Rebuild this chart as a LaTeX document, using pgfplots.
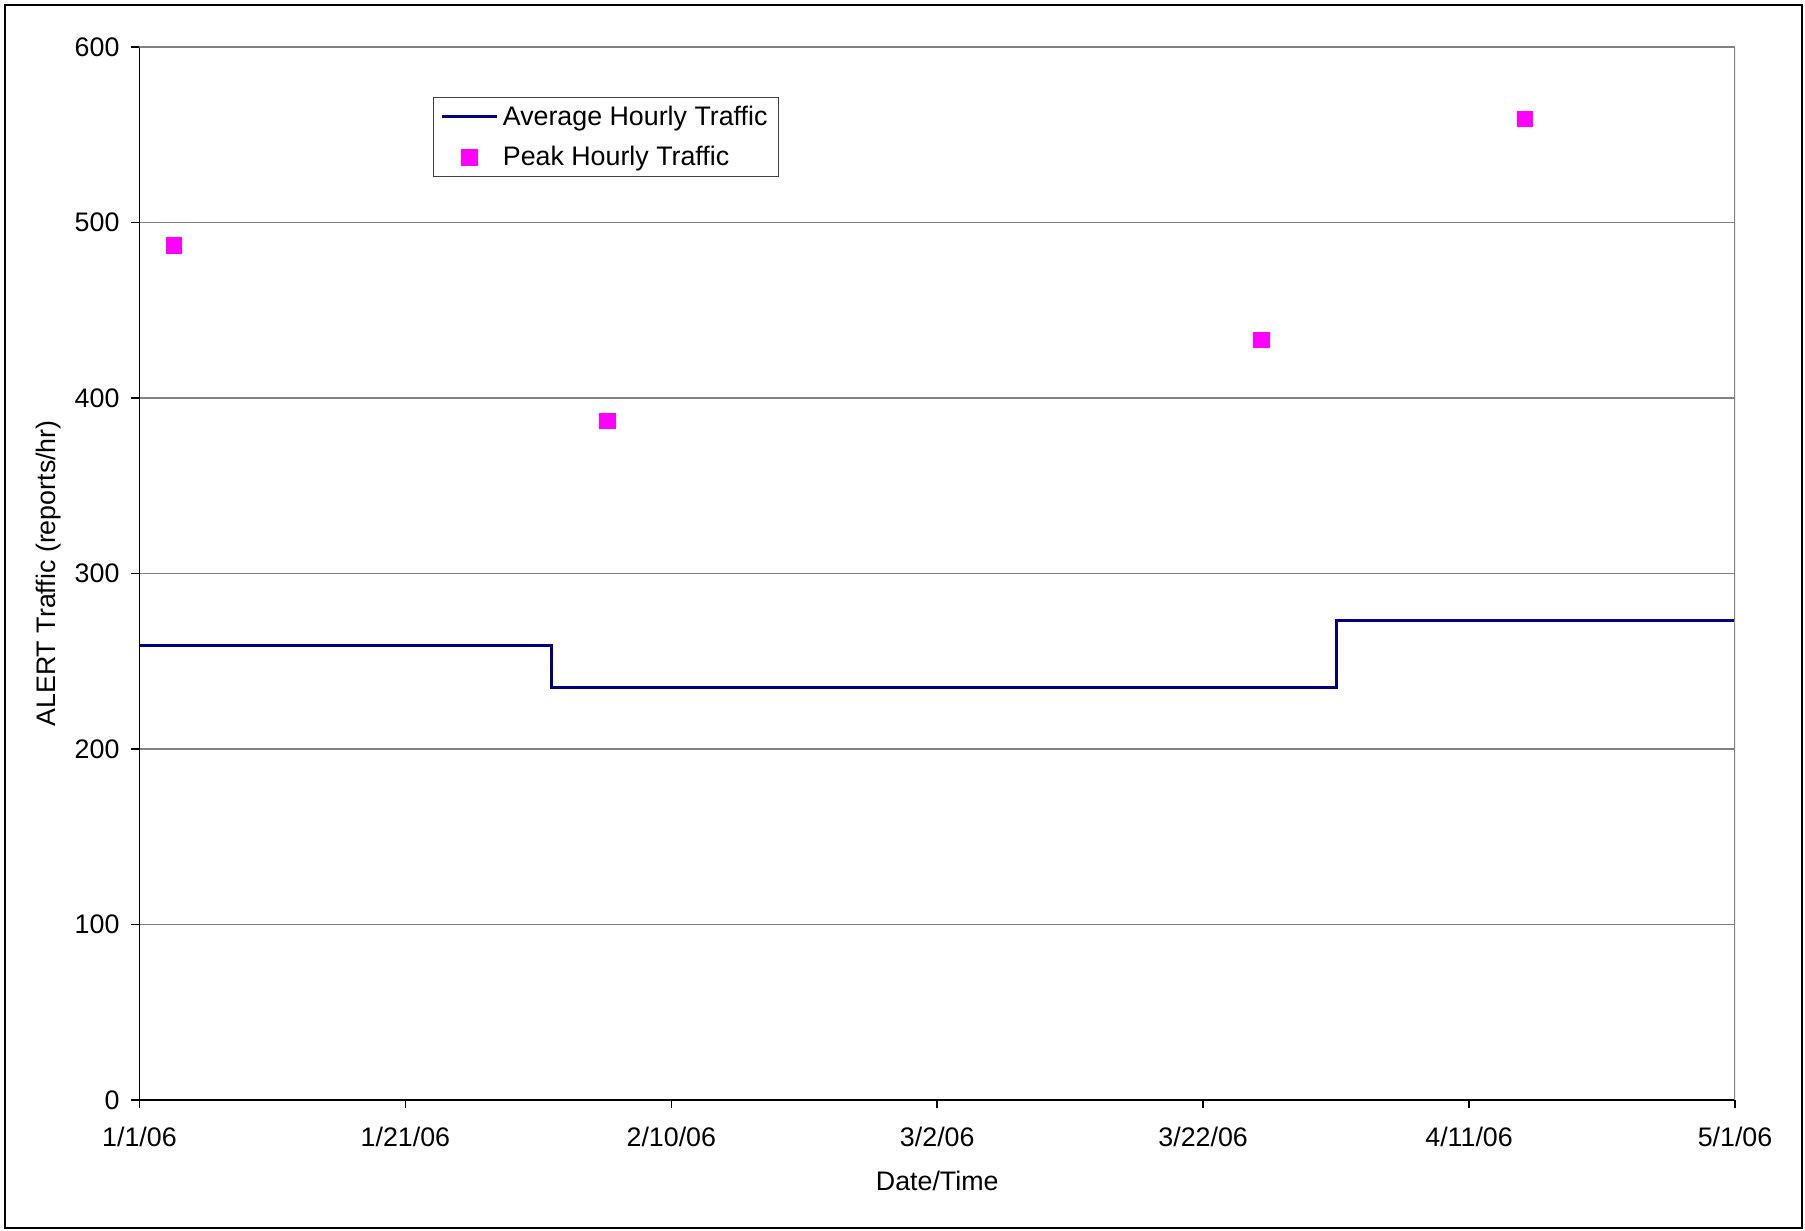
\documentclass[border=0pt]{standalone}
\usepackage{fontspec}
\setmainfont{Liberation Sans}
\usepackage{pgfplots}
\pgfplotsset{compat=1.18}
\definecolor{avgnavy}{RGB}{0,0,128}
\definecolor{peakmag}{RGB}{255,0,255}
\definecolor{gridgray}{RGB}{128,128,128}
\pgfplotsset{
    avglegend/.style={legend image code/.code={\draw[##1] (0pt,0pt) -- (27.5pt,0pt);}},
    peaklegend/.style={legend image code/.code={\draw[##1] plot coordinates {(13.75pt,0pt)};}},
}
\newcommand{\chartfont}{\fontsize{13.4}{16}\selectfont}

\begin{document}
\begin{tikzpicture}[x=1pt,y=1pt]
% page and outer frame (1 px of the reference = 0.5pt)
\path (-69.75,-65.5) rectangle (832.75,550);
\draw[line width=1pt] (-67.25,-64) rectangle (831,547.5);
\begin{axis}[
    at={(0pt,0pt)}, anchor=south west,
    scale only axis,
    width=797.75pt, height=526.5pt,
    xmin=0, xmax=120,
    ymin=0, ymax=600,
    axis lines*=left,
    axis line style={black, line width=0.8pt},
    xtick={0,20,40,60,80,100,120},
    xticklabels={1/1/06,1/21/06,2/10/06,3/2/06,3/22/06,4/11/06,5/1/06},
    ytick={0,100,200,300,400,500,600},
    tick align=outside,
    major tick length=4pt,
    tick style={black, line width=0.8pt},
    ymajorgrids=true,
    grid style={gridgray, line width=0.6pt},
    /pgf/number format/assume math mode=true,
    ticklabel style={font=\chartfont},
    yticklabel style={xshift=-2.5pt},
    xticklabel style={yshift=-6pt},
    xlabel={Date/Time},
    ylabel={ALERT Traffic (reports/hr)},
    label style={font=\chartfont},
    xlabel style={at={(axis description cs:0.5,-0.0769)}, anchor=center},
    ylabel style={at={(axis description cs:-0.0573,0.5)}, anchor=center},
    legend style={
        at={(axis description cs:0.184,0.9525)}, anchor=north west,
        draw=black!75, line width=0.6pt,
        font=\chartfont,
        inner xsep=3.5pt, inner ysep=2pt,
        row sep=5pt,
    },
    legend cell align=left,
]

\addplot[avgnavy, line width=1.6pt, avglegend]
    coordinates {
    (0,259)(31,259)(31,235)(90,235)(90,273)(120,273)
    };
\addlegendentry{Average Hourly Traffic}

\addplot[only marks, mark=square*, mark size=3.9pt,
    mark options={draw=peakmag, fill=peakmag}, peaklegend]
    coordinates {
    (2.6,487)(35.2,387)(84.4,433)(104.2,559)
    };
\addlegendentry{Peak Hourly Traffic}

\draw[gridgray, line width=1.2pt] (rel axis cs:0,1) -- (rel axis cs:1,1) -- (rel axis cs:1,0);
\end{axis}
\end{tikzpicture}
\end{document}
